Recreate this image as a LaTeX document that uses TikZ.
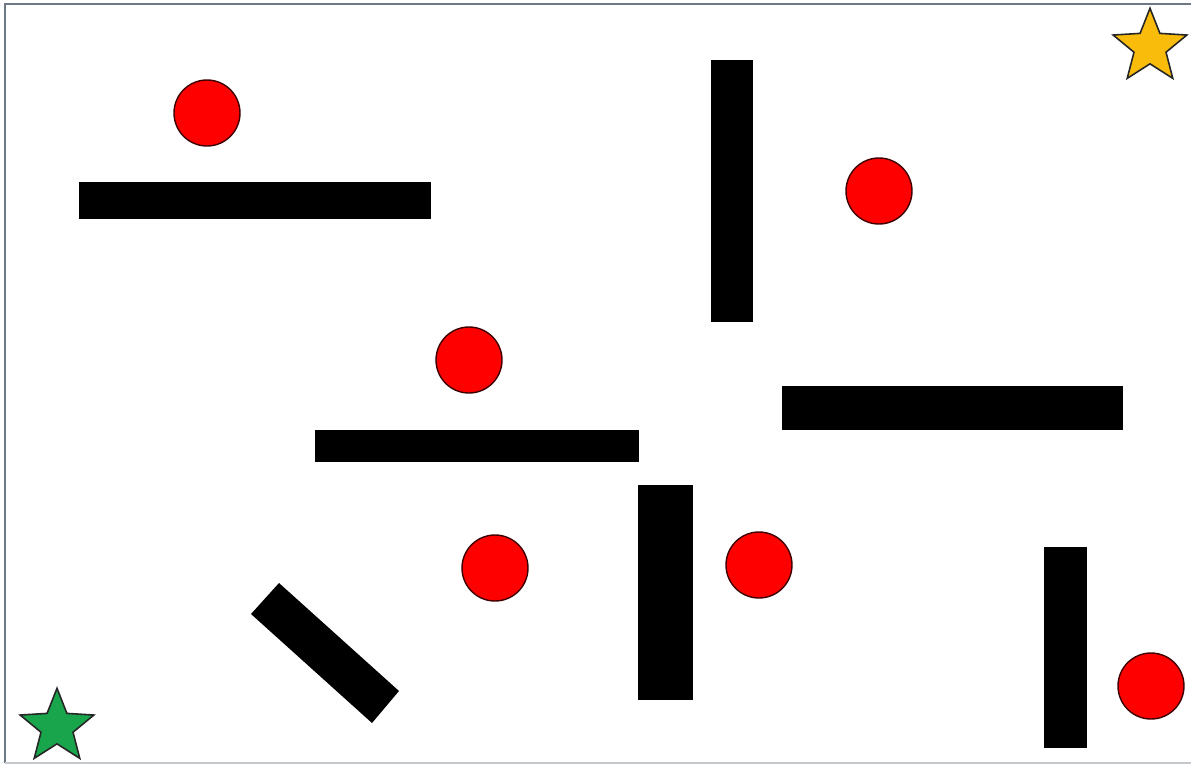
\documentclass[tikz,border=0pt]{standalone}
\usepackage{xcolor}
\usepackage{tikz}
\usetikzlibrary{shapes.geometric}

\definecolor{ballred}{RGB}{255,0,0}
\definecolor{goldstar}{RGB}{250,188,10}
\definecolor{greenstar}{RGB}{25,165,75}
\definecolor{framegray}{RGB}{110,120,130}

\begin{document}
\begin{tikzpicture}[x=0.02cm, y=-0.02cm,
    ball/.style={circle, draw=black!75!red, fill=ballred, minimum size=1.32cm, inner sep=0pt, line width=0.8pt},
    goal/.style={star, star points=5, star point ratio=2.3, minimum size=1.55cm, inner sep=0pt, draw=black!85, line width=0.9pt}]
    \useasboundingbox (0,0) rectangle (1191,765);
    \fill[white] (0,0) rectangle (1191,765);

    % Khung ngoài
    \draw[framegray, line width=1.2pt] (5,763) -- (5,4) -- (1191,4);
    \draw[framegray!40, line width=0.8pt] (5,763) -- (1191,763);

    % Các thanh chắn màu đen
    \fill[black] (79,182) rectangle (431,219);
    \fill[black] (711,60) rectangle (753,322);
    \fill[black] (782,386) rectangle (1123,430);
    \fill[black] (315,430) rectangle (639,462);
    \fill[black] (638,485) rectangle (693,700);
    \fill[black] (1044,547) rectangle (1087,748);
    \fill[black] (279,583) -- (399,691) -- (372,723) -- (251,614) -- cycle;

    % Các quả bóng đỏ
    \node[ball] (b1) at (207,113) {};
    \node[ball] (b2) at (879,191) {};
    \node[ball] (b3) at (469,360) {};
    \node[ball] (b4) at (495,568) {};
    \node[ball] (b5) at (759,565) {};
    \node[ball] (b6) at (1151,686) {};

    % Ngôi sao xuất phát và đích
    \node[goal, fill=goldstar] (finish) at (1150,47) {};
    \node[goal, fill=greenstar] (start) at (57,727) {};
\end{tikzpicture}
\end{document}
